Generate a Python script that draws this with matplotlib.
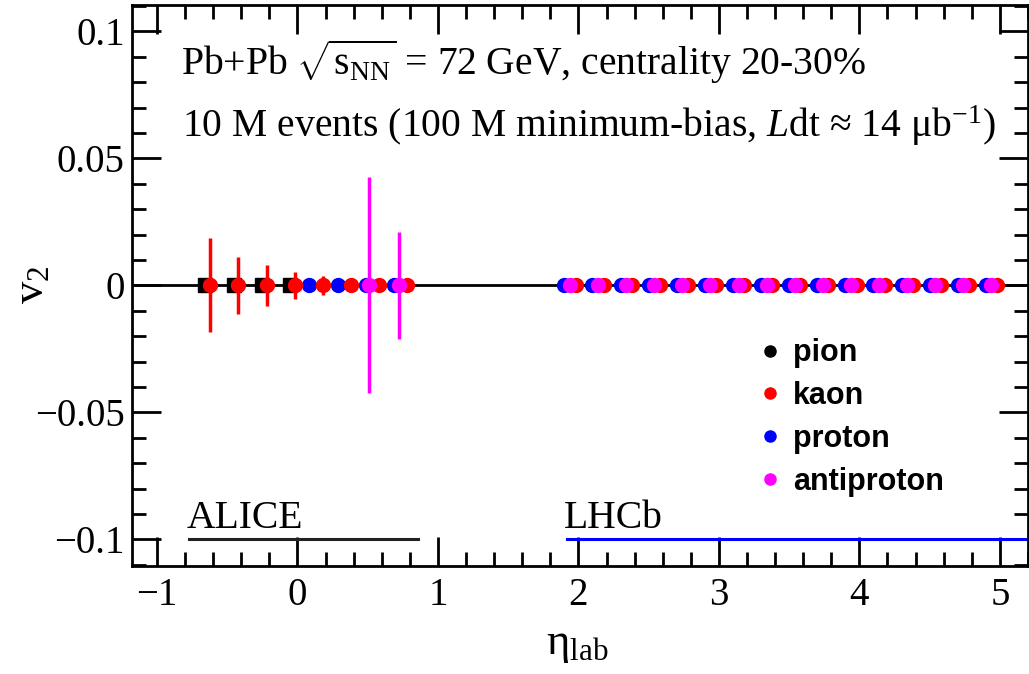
import matplotlib
matplotlib.use('Agg')
import matplotlib.pyplot as plt
from matplotlib.lines import Line2D
from matplotlib.ticker import MultipleLocator

plt.rcParams['font.family'] = ['Liberation Serif', 'DejaVu Serif']
plt.rcParams['mathtext.fontset'] = 'custom'
plt.rcParams['mathtext.rm'] = 'Liberation Serif'
plt.rcParams['mathtext.it'] = 'Liberation Serif:italic'
plt.rcParams['mathtext.bf'] = 'Liberation Serif:bold'

# ALICE acceptance (mid-rapidity)
alice_pion_eta = [-0.66, -0.45, -0.255, -0.055]
alice_pion_v2 = [0, 0, 0, 0]
alice_kaon_eta = [-0.62, -0.42, -0.22, -0.02, 0.18, 0.38, 0.58, 0.78]
alice_kaon_v2 = [0, 0, 0, 0, 0, 0, 0, 0]
alice_kaon_err = [0.0185, 0.0112, 0.0079, 0.0052, 0.0039, 0.0024, 0.001, 0.001]
alice_proton_eta = [0.085, 0.29, 0.49, 0.69]
alice_proton_v2 = [0, 0, 0, 0]
alice_pbar_eta = [0.51, 0.72]
alice_pbar_v2 = [0, 0]
alice_pbar_err = [0.0425, 0.0212]

# LHCb acceptance (forward)
lhcb_proton_eta = [1.90, 2.10, 2.30, 2.50, 2.70, 2.90, 3.10, 3.30,
                   3.50, 3.70, 3.90, 4.10, 4.30, 4.50, 4.70, 4.90]
lhcb_pbar_eta = [1.94, 2.14, 2.34, 2.54, 2.74, 2.94, 3.14, 3.34,
                 3.54, 3.74, 3.94, 4.14, 4.34, 4.54, 4.74, 4.94]
lhcb_kaon_eta = [1.98, 2.18, 2.38, 2.58, 2.78, 2.98, 3.18, 3.38,
                 3.58, 3.78, 3.98, 4.18, 4.38, 4.58, 4.78, 4.98]
lhcb_v2 = [0] * 16

alice_range = [-0.77, 0.86]
lhcb_range = [1.92, 5.2]

fig = plt.figure(figsize=(10.29, 6.74), dpi=100)
ax = fig.add_axes([0.128, 0.160, 0.871, 0.833])

ax.axhline(0, color='black', lw=2, zorder=1)

ms = 10
ax.plot(alice_pion_eta, alice_pion_v2, 's', color='black', ms=ms, zorder=3)
ax.plot(alice_proton_eta, alice_proton_v2, 'o', color='blue', ms=ms, zorder=3)
ax.errorbar(alice_kaon_eta, alice_kaon_v2, yerr=alice_kaon_err, fmt='o',
            color='red', ms=ms, elinewidth=2.5, capsize=0, zorder=4)
ax.errorbar(alice_pbar_eta, alice_pbar_v2, yerr=alice_pbar_err, fmt='o',
            color='magenta', ms=ms, elinewidth=2.5, capsize=0, zorder=5)

ax.plot(lhcb_proton_eta, lhcb_v2, 'o', color='blue', ms=ms, zorder=3)
ax.plot(lhcb_kaon_eta, lhcb_v2, 'o', color='red', ms=ms, zorder=3)
ax.plot(lhcb_pbar_eta, lhcb_v2, 'o', color='magenta', ms=ms, zorder=4)

# acceptance bars
ax.plot(alice_range, [-0.1, -0.1], color='#222222', lw=2.2, zorder=2)
ax.plot(lhcb_range, [-0.1, -0.1], color='blue', lw=2.2, zorder=2)
ax.text(-0.79, -0.0955, 'ALICE', fontsize=28.5, ha='left', va='baseline')
ax.text(1.895, -0.0955, 'LHCb', fontsize=28.5, ha='left', va='baseline')

ax.text(-0.83, 0.0829, r'Pb+Pb $\sqrt{\mathrm{s_{NN}}}$ = 72 GeV, centrality 20-30%',
        fontsize=28.5, ha='left', va='baseline')
ax.text(-0.82, 0.0585, r'10 M events (100 M minimum-bias, $L$dt ≈ 14 μb$^{\mathrm{-1}}$)',
        fontsize=28.5, ha='left', va='baseline')

handles = [Line2D([], [], marker='o', ls='', color=c, ms=8)
           for c in ['black', 'red', 'blue', 'magenta']]
ax.legend(handles, ['pion', 'kaon', 'proton', 'antiproton'],
          loc='upper left', bbox_to_anchor=(0.699, 0.406), frameon=False,
          prop={'family': 'Liberation Sans', 'weight': 'bold', 'size': 22},
          handlelength=0.8, handletextpad=0.35, labelspacing=0.42,
          borderpad=0, borderaxespad=0)

ax.set_xlim(-1.18, 5.2)
ax.set_ylim(-0.1105, 0.1105)
ax.xaxis.set_major_locator(MultipleLocator(1))
ax.xaxis.set_minor_locator(MultipleLocator(0.2))
ax.yaxis.set_major_locator(MultipleLocator(0.05))
ax.yaxis.set_minor_locator(MultipleLocator(0.01))
ax.tick_params(which='both', direction='in', top=True, right=True,
               labelsize=28, width=2)
ax.tick_params(which='major', length=21)
ax.tick_params(which='minor', length=10)
ax.tick_params(axis='y', which='major', pad=5)
ax.tick_params(axis='x', which='major', pad=8)
ax.set_yticks([-0.1, -0.05, 0, 0.05, 0.1])
ax.set_yticklabels(['\u22120.1', '\u22120.05', '0', '0.05', '0.1'])
ax.set_xticks([-1, 0, 1, 2, 3, 4, 5])
ax.set_xticklabels(['\u22121', '0', '1', '2', '3', '4', '5'])
for s in ax.spines.values():
    s.set_linewidth(2)

fig.text(32 / 1029, 1 - 285 / 674, r'$\mathrm{v_{2}}$', fontsize=32,
         rotation=90, ha='center', va='center')
fig.text(577 / 1029, 1 - 645 / 674, r'$\mathrm{η_{lab}}$', fontsize=32,
         ha='center', va='center')

fig.savefig('out.png', dpi=100)
